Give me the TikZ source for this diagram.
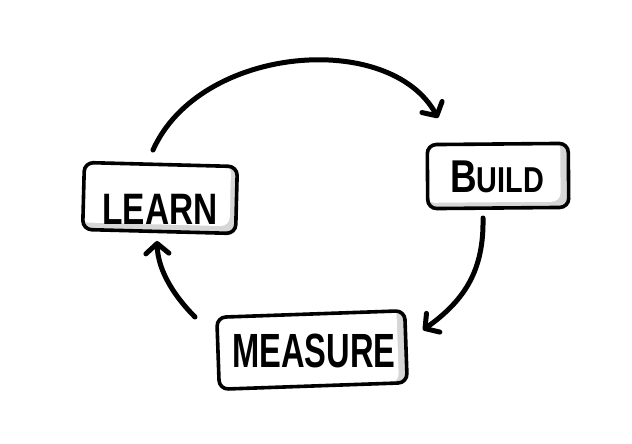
\documentclass[tikz,border=0pt]{standalone}
\usepackage{fontspec}
\setmainfont{Liberation Sans}
\usetikzlibrary{arrows.meta}
\tikzset{
  stagebox/.style={draw=black, line width=3.6pt, rounded corners=9pt, fill=white,
    inner sep=0pt,
    path picture={
      \fill[black!16] (path picture bounding box.south west) rectangle (path picture bounding box.north east);
      \fill[white, rounded corners=9pt] ([shift={(-2pt,2pt)}]path picture bounding box.north west) rectangle ([shift={(-8pt,7pt)}]path picture bounding box.south east);
    }},
  stagetext/.style={font=\bfseries},
  cyclearrow/.style={line width=5pt, line cap=round, -{Straight Barb[length=10pt,width=23pt,line cap=round,line join=round]}}
}
\begin{document}
\begin{tikzpicture}[x=1pt,y=-1pt]
\fill[white] (0,0) rectangle (632,444);
\useasboundingbox (0,0) rectangle (632,444);

\node[stagebox, minimum width=153pt, minimum height=67pt, rotate=-1.5] (learn) at (160,198) {};
\node[stagetext] at (160,209) {\scalebox{0.76}[1]{\fontsize{44}{44}\selectfont LEARN}};

\node[stagebox, minimum width=141pt, minimum height=64pt, rotate=0.5] (build) at (498,176) {};
\node[stagetext] at (497,177) {\scalebox{0.8}[1]{\fontsize{46}{46}\selectfont B\fontsize{36}{36}\selectfont UILD}};

\node[stagebox, minimum width=188pt, minimum height=72pt, rotate=2] (measure) at (312,350) {};
\node[stagetext] at (314,351) {\scalebox{0.68}[1]{\fontsize{48}{48}\selectfont MEASURE}};

\coordinate (s1) at (153,150);
\coordinate (e1) at (438,118);
\coordinate (s2) at (483,218);
\coordinate (e2) at (423,330);
\coordinate (s3) at (195,317);
\coordinate (e3) at (157,241);

\draw[cyclearrow] (s1) .. controls (200,45) and (390,30) .. (e1);
\draw[cyclearrow] (s2) .. controls (484,270) and (465,300) .. (e2);
\draw[cyclearrow] (s3) .. controls (176,298) and (158,272) .. (e3);
\end{tikzpicture}
\end{document}
